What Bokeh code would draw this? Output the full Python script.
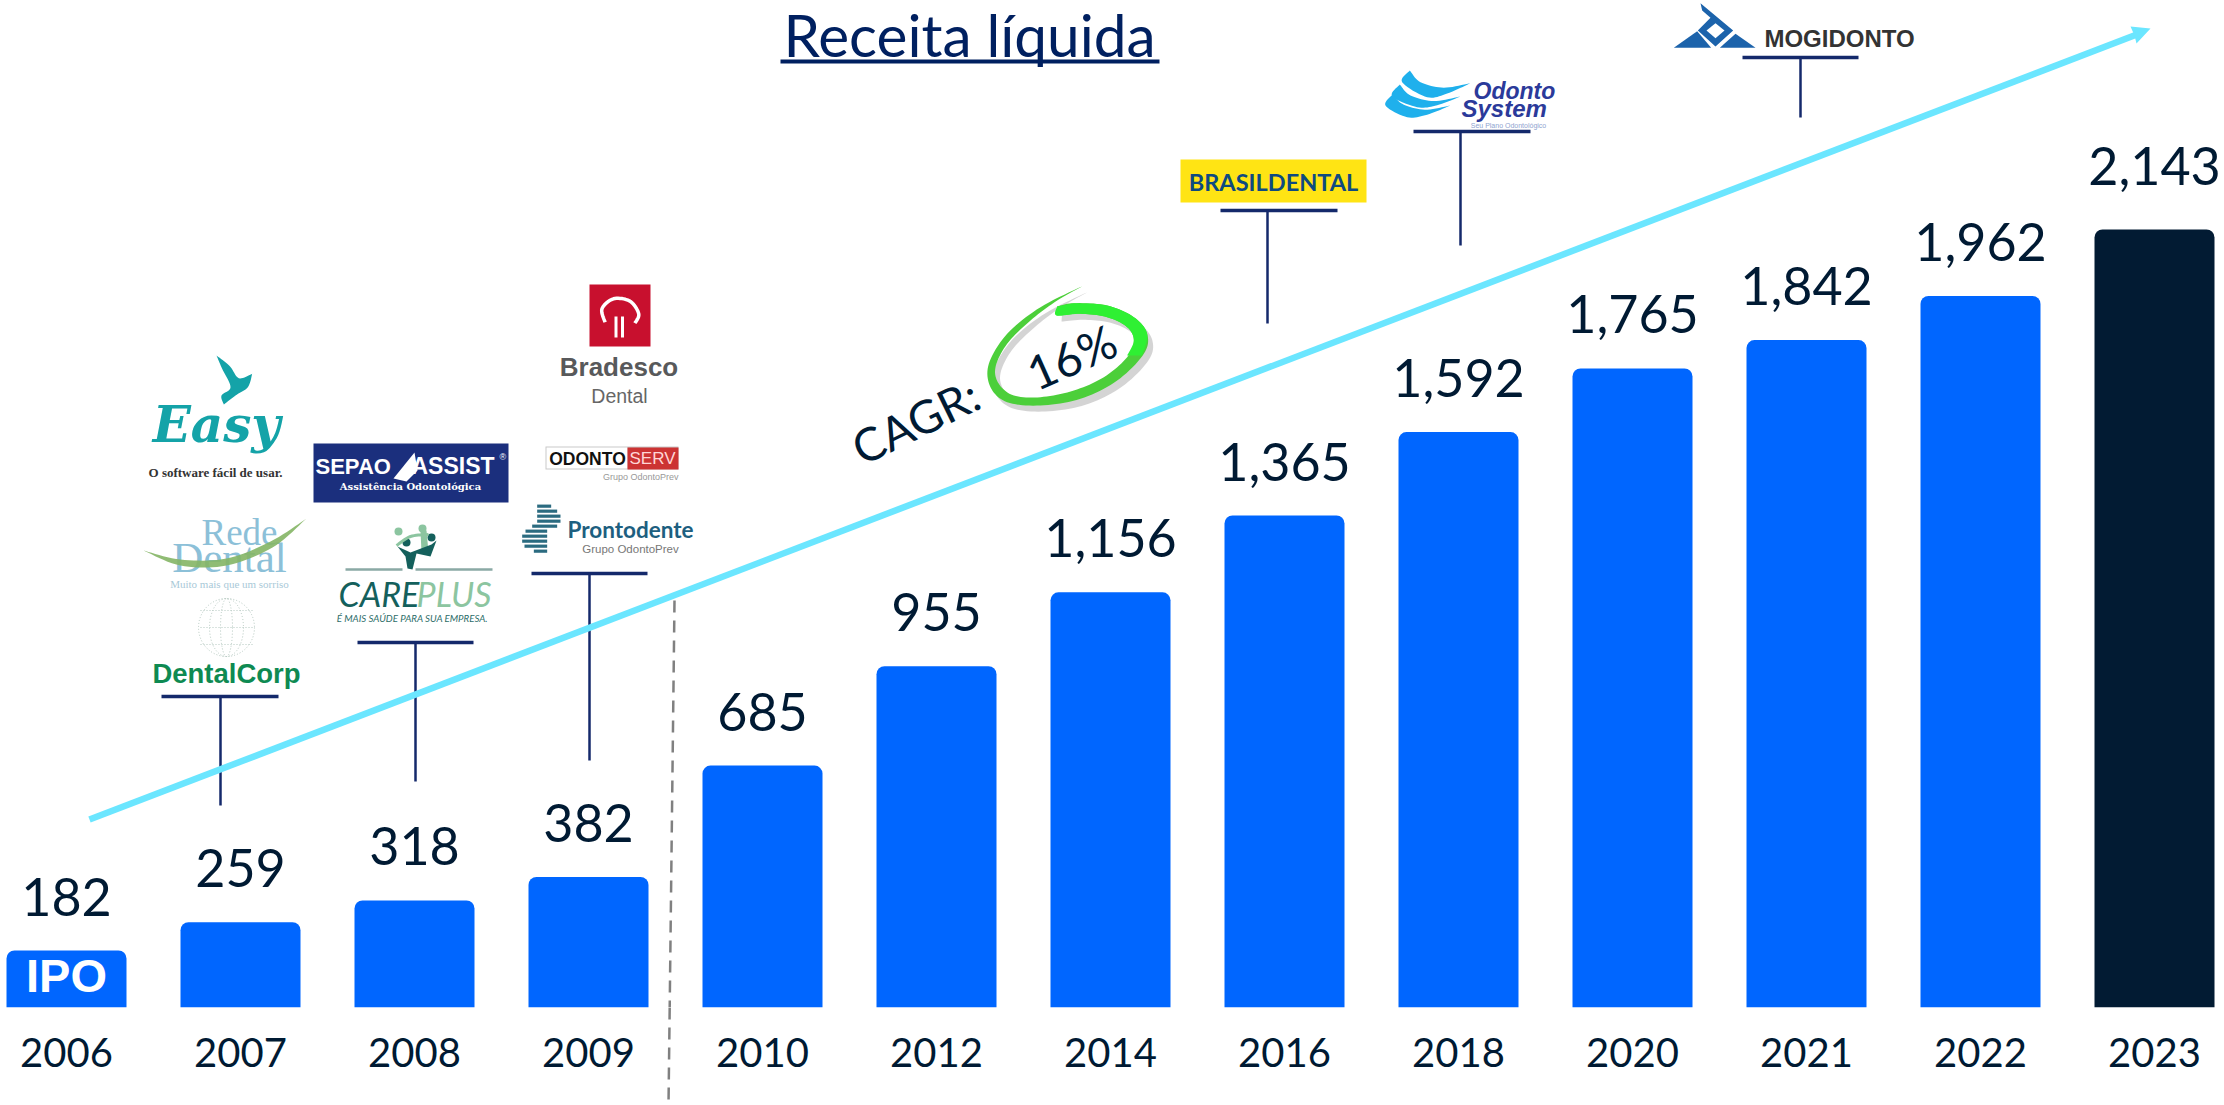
from bokeh.plotting import figure
from bokeh.embed import file_html
from bokeh.resources import INLINE
from bokeh.core.properties import value
from bokeh.layouts import column
from bokeh.models import Range1d, FixedTicker
import numpy as np

years = ["2006", "2007", "2008", "2009", "2010", "2012", "2014", "2016", "2018", "2020", "2021", "2022", "2023"]
revenue = [182, 259, 318, 382, 685, 955, 1156, 1365, 1592, 1765, 1842, 1962, 2143]
title_text = "Receita líquida"
cagr_text = "CAGR:"
cagr_value = "16%"

W, H = 2224, 1105
BASE_PX = 1007
INK = "#001a33"
BLUE = "#0066ff"
NAVY = "#14296b"
CYAN = "#6be6ff"

pitch = 174.0
first_center = 66.0
x_start = -first_center / pitch
x_end = (W - first_center) / pitch
units_per_px = 1 / 0.3677
y_start = 27.0
y_end = y_start + BASE_PX * units_per_px

p = figure(width=W, height=H, output_backend="svg", toolbar_location=None,
           x_range=Range1d(x_start, x_end), y_range=Range1d(y_start, y_end),
           y_axis_location=None, min_border_left=0, min_border_right=0,
           min_border_top=0, min_border_bottom=H - BASE_PX, background_fill_color="white")
p.outline_line_color = None
p.grid.visible = False
p.extra_x_ranges["px"] = Range1d(0, W)
p.extra_y_ranges["px"] = Range1d(BASE_PX, 0)

ax = p.xaxis[0]
ax.ticker = FixedTicker(ticks=list(range(len(years))))
ax.major_label_overrides = {i: y for i, y in enumerate(years)}
ax.major_label_text_font = "Lato"
ax.major_label_text_font_size = "40px"
ax.major_label_text_color = INK
ax.major_label_standoff = 24
ax.axis_line_color = None
ax.major_tick_line_color = None
ax.minor_tick_line_color = None

PX = dict(x_range_name="px", y_range_name="px")


def T(x, y, s, size, color, font="Liberation Sans", style="normal", align="center", angle=0.0, caph=0.36):
    """y is the text baseline; the glyph is placed by the middle of its capitals."""
    p.text([x], [y - caph * size], text=[s], text_font=value(font), text_font_size=f"{size}px", text_font_style=style,
           text_color=color, text_align=align, text_baseline="middle", angle=angle, **PX)


def smooth(pts, n=10):
    pts = np.array(pts, dtype=float)
    q = np.vstack([pts[0], pts, pts[-1]])
    out = []
    for i in range(1, len(q) - 2):
        a, b, c, d = q[i - 1], q[i], q[i + 1], q[i + 2]
        for t in np.linspace(0, 1, n, endpoint=False):
            out.append(0.5 * (2 * b + (c - a) * t + (2 * a - 5 * b + 4 * c - d) * t ** 2 + (3 * b - a - 3 * c + d) * t ** 3))
    out.append(pts[-1])
    return np.array(out)


def poly(pts, color, alpha=1.0):
    a = np.array(pts, dtype=float)
    p.patch(a[:, 0], a[:, 1], fill_color=color, line_color=None, fill_alpha=alpha, **PX)


def seg(x0, y0, x1, y1, color, w=3, dash="solid", cap="butt"):
    p.line([x0, x1], [y0, y1], line_color=color, line_width=w, line_dash=dash, line_cap=cap, **PX)


def tee(x0, x1, y, xs, yb):
    seg(x0, y, x1, y, NAVY, 3.5)
    seg(xs, y, xs, yb, NAVY, 2.5)


def mapper(ox, oy, sx, sy=3.0):
    return lambda pts: [(ox + a / sx, oy + b / sy) for a, b in pts]


# Bars -----------------------------------------------------------------
bar_colors = [BLUE] * (len(years) - 1) + ["#021b33"]
xs = list(range(len(years)))
p.vbar(x=xs, top=revenue, bottom=y_start, width=120 / pitch, fill_color=bar_colors, line_color=None,
       border_radius=(8, 8, 0, 0))
labels = [f"{v:,}" for v in revenue]
p.text(xs[:-1], revenue[:-1], text=labels[:-1], text_font=value("Lato"), text_font_size="52px", text_color=INK,
       text_align="center", text_baseline="middle", y_offset=-54)
p.text(xs[-1:], revenue[-1:], text=labels[-1:], text_font=value("Lato"), text_font_size="52px", text_color=INK,
       text_align="center", text_baseline="middle", y_offset=-63)
T(66, 992, "IPO", 47, "white", style="bold")

# Title ----------------------------------------------------------------
T(969, 54.5, title_text, 58.5, "#002060", font="Lato")
seg(780, 61, 1159, 61, "#002060", 4)

# Tees -----------------------------------------------------------------
tee(161, 278, 696, 220, 805)
tee(357, 473, 642, 415, 781)
tee(531, 647, 573, 589, 760)
tee(1220, 1337, 210, 1267, 323)
tee(1413, 1530, 131, 1460, 245)
tee(1742, 1858, 57, 1800, 117)

# Trend arrow ----------------------------------------------------------
seg(89, 819, 2135, 34.5, CYAN, 6.5)
poly([(2150, 28), (2130, 26), (2134, 35), (2136, 43)], CYAN)

# Dashed separator, upper part
DASH = "12 8"
seg(674, 600, 669.2, 1007, "#808080", 2.5, dash=DASH)

# CAGR -----------------------------------------------------------------
Z4 = mapper(840, 270, 3.0)
outer = smooth(Z4([(730, 45), (600, 110), (500, 190), (445, 280), (450, 350), (500, 395), (600, 405), (720, 385),
                   (830, 330), (910, 250), (920, 190), (880, 140), (800, 105), (700, 98), (650, 108)]))
inner = smooth(Z4([(648, 135), (720, 130), (800, 140), (860, 170), (880, 210), (860, 260), (790, 320), (700, 360),
                   (600, 380), (520, 375), (475, 340), (465, 290), (500, 220), (570, 150), (650, 90), (730, 45)]))
ring = np.vstack([outer, inner])
poly(ring + np.array([5, 6]), "#555555", 0.25)
poly(ring, "#4ccf3a")
poly(np.vstack([smooth(Z4([(700, 98), (800, 105), (880, 140), (920, 190), (905, 255)])),
                smooth(Z4([(860, 255), (880, 210), (860, 170), (800, 140), (720, 130), (648, 135), (650, 108)]))]),
     "#2ff033")
T(915, 437, cagr_text, 46, INK, font="Lato", angle=np.radians(26))
T(1071, 373, cagr_value, 47, INK, font="Lato", angle=np.radians(24))

# Easy -----------------------------------------------------------------
TEAL = "#14a3a8"
Z8 = mapper(140, 345, 3.0)
bird = np.vstack([smooth(Z8([(228, 30), (268, 62), (295, 98), (335, 85)])),
                  smooth(Z8([(335, 85), (322, 125), (285, 150), (250, 177)])),
                  smooth(Z8([(250, 177), (243, 150), (270, 125), (245, 70), (228, 30)]))])
poly(bird, TEAL)
T(216, 442, "Easy", 50, TEAL, font="DejaVu Serif", style="bold italic")
T(215, 477, "O software fácil de usar.", 13, "#333333", font="Liberation Serif", style="bold")

# Sepao ----------------------------------------------------------------
poly([(313, 443), (508, 443), (508, 502), (313, 502)], "#1b2f7d")
T(315, 474, "SEPAO", 22, "white", style="bold", align="left")
T(411, 474, "ASSIST", 23, "white", style="bold", align="left")
T(499, 460, "®", 9, "white", align="left")
poly([(393, 478), (414, 452), (417, 470), (406, 481)], "white")
T(410, 490, "Assistência Odontológica", 10, "white", font="DejaVu Serif", style="bold")

# Bradesco -------------------------------------------------------------
poly([(589, 284), (650, 284), (650, 346), (589, 346)], "#c8102e")
Z1 = mapper(130, 270, 2.613)
arc1 = smooth(Z1([(1240, 155), (1232, 115), (1262, 85), (1305, 92), (1328, 130), (1318, 158)]))
p.line(arc1[:, 0], arc1[:, 1], line_color="white", line_width=3.5, **PX)
seg(615.5, 316, 615.5, 337, "white", 3)
seg(622, 316, 622, 337, "white", 3)
T(618.5, 376, "Bradesco", 26, "#58595b", style="bold")
T(619, 403, "Dental", 19.5, "#666666")

# Odontoserv -----------------------------------------------------------
poly([(545, 446), (678, 446), (678, 469), (545, 469)], "#c9c9c9")
poly([(546, 447), (627, 447), (627, 468), (546, 468)], "white")
poly([(627, 447), (678, 447), (678, 469), (627, 469)], "#cc3333")
T(587, 464.5, "ODONTO", 17.5, "#111111", style="bold")
T(652, 464.5, "SERV", 17, "#ffd6d6")
T(678, 480, "Grupo OdontoPrev", 9, "#999999", align="right")

# Prontodente ----------------------------------------------------------
Z10 = mapper(510, 495, 3.0)
for row_y, xa, xb in [(32, 80, 122), (47, 80, 140), (62, 80, 150), (77, 80, 150), (92, 65, 140), (107, 45, 110), (122, 35, 110),
                      (137, 35, 110), (152, 42, 110), (167, 70, 110)]:
    (a, b), (c, d) = Z10([(xa, row_y), (xb, row_y)])
    seg(a, b, c, d, "#2b6b80", 3.2)
T(630, 537, "Prontodente", 22.5, "#1d5f80", font="Lato", style="bold")
T(630, 553, "Grupo OdontoPrev", 11.5, "#777777")

# Rede Dental ----------------------------------------------------------
T(239, 545, "Rede", 37, "#8cc0d8", font="Liberation Serif")
T(229, 572, "Dental", 43, "#8cc0d8", font="Liberation Serif")
up = smooth([(143, 550), (180, 559), (226, 558), (270, 541), (306, 518)])
lo = smooth([(306, 518), (272, 547), (226, 565), (180, 565), (143, 550)])
poly(np.vstack([up, lo]), "#84b565", 0.9)
T(229, 587, "Muito mais que um sorriso", 11, "#a9c9d8", font="Liberation Serif")

# Globe / DentalCorp ---------------------------------------------------
for rx in (56, 34, 12):
    p.ellipse([226], [627], width=[rx], height=[58], fill_color=None, line_color="#b5c9c0", line_width=1,
              line_dash="1 2", **PX)
for gy in (610, 627, 644):
    seg(200, gy, 252, gy, "#b5c9c0", 1, dash="1 2")
T(226, 683, "DentalCorp", 27.5, "#0e8a52", style="bold")

# Careplus -------------------------------------------------------------
for hx, hy, hc in [(398, 531, "#8cc5a0"), (422, 528, "#8cc5a0"), (406, 542, "#14605c"), (431, 537, "#14605c")]:
    p.circle([hx], [hy], radius=4, fill_color=hc, line_color=None, **PX)
arc2 = smooth([(396, 545), (410, 536), (428, 534)])
p.line(arc2[:, 0], arc2[:, 1], line_color="#8cc5a0", line_width=3, **PX)
poly([(420, 530), (426, 530), (428, 552), (421, 552)], "#8cc5a0")
poly([(397, 546), (410, 552), (431, 544), (436, 540), (430, 556), (416, 553), (412, 569), (407, 568), (405, 556)], "#14605c")
seg(345, 569, 402, 569, "#8aa9a5", 2.5)
seg(415, 569, 492, 569, "#8aa9a5", 2.5)
T(338, 605, "CARE", 34, "#14605c", font="Lato", style="italic", align="left")
T(491, 605, "PLUS", 34, "#8cc5a0", font="Lato", style="italic", align="right")
T(412, 621, "É MAIS SAÚDE PARA SUA EMPRESA.", 9.7, "#2d6d69", font="Lato", style="italic")

# Brasildental ---------------------------------------------------------
poly([(1180, 159), (1366, 159), (1366, 202), (1180, 202)], "#ffe414")
T(1273, 190, "BRASILDENTAL", 23.5, "#0e4a80", font="Lato", style="bold")

# Odonto System --------------------------------------------------------
Z6 = mapper(1370, 60, 3.0)
for tip, edge1, tail, edge2 in (
        ((118, 30), (150, 65), (300, 68), (170, 110)),
        ((88, 72), (120, 105), (270, 108), (140, 140)),
        ((68, 100), (95, 130), (240, 135), (110, 170))):
    mid1 = ((edge1[0] + tail[0]) / 2 - 5, (edge1[1] + tail[1]) / 2 + 15)
    mid2 = ((edge2[0] + tail[0]) / 2 - 5, (edge2[1] + tail[1]) / 2 + 10)
    back = (tip[0] - 23, tip[1] + 35)
    poly(np.vstack([smooth(Z6([tip, edge1, mid1, tail])), smooth(Z6([tail, mid2, edge2, back, tip]))]), "#1fb0ec")
T(1473, 99, "Odonto", 23, "#2b3a9a", style="bold italic", align="left")
T(1461, 117, "System", 24, "#2b3a9a", style="bold italic", align="left")
T(1508, 128, "Seu Plano Odontológico", 7, "#8fa4d0")

# Mogidonto ------------------------------------------------------------
Z5 = mapper(1660, 0, 3.0)
MB = "#1c63ab"
poly(Z5([(40, 142), (110, 92), (152, 142)]), MB)
poly(Z5([(178, 142), (225, 100), (285, 142)]), MB)
poly(Z5([(120, 8), (218, 90), (165, 138), (112, 90), (150, 52), (125, 30)]), MB)
poly(Z5([(165, 68), (192, 90), (165, 113), (138, 90)]), "white")
T(1839, 47, "MOGIDONTO", 24, "#333333", style="bold")

# Lower part of the dashed separator, on a clear strip over the axis band
strip = figure(width=W, height=H - BASE_PX, output_backend="svg", toolbar_location=None,
               x_range=Range1d(0, W), y_range=Range1d(H, BASE_PX), x_axis_location=None, y_axis_location=None,
               min_border_left=0, min_border_right=0, min_border_top=0, min_border_bottom=0,
               background_fill_color=None, border_fill_color=None)
strip.outline_line_color = None
strip.grid.visible = False
strip.line([669.2, 668], [BASE_PX, H], line_color="#808080", line_width=2.5, line_dash=DASH)
strip.margin = (-(H - BASE_PX), 0, 0, 0)

page = column(p, strip, spacing=0)
open("out.html", "w").write(file_html(page, INLINE))
